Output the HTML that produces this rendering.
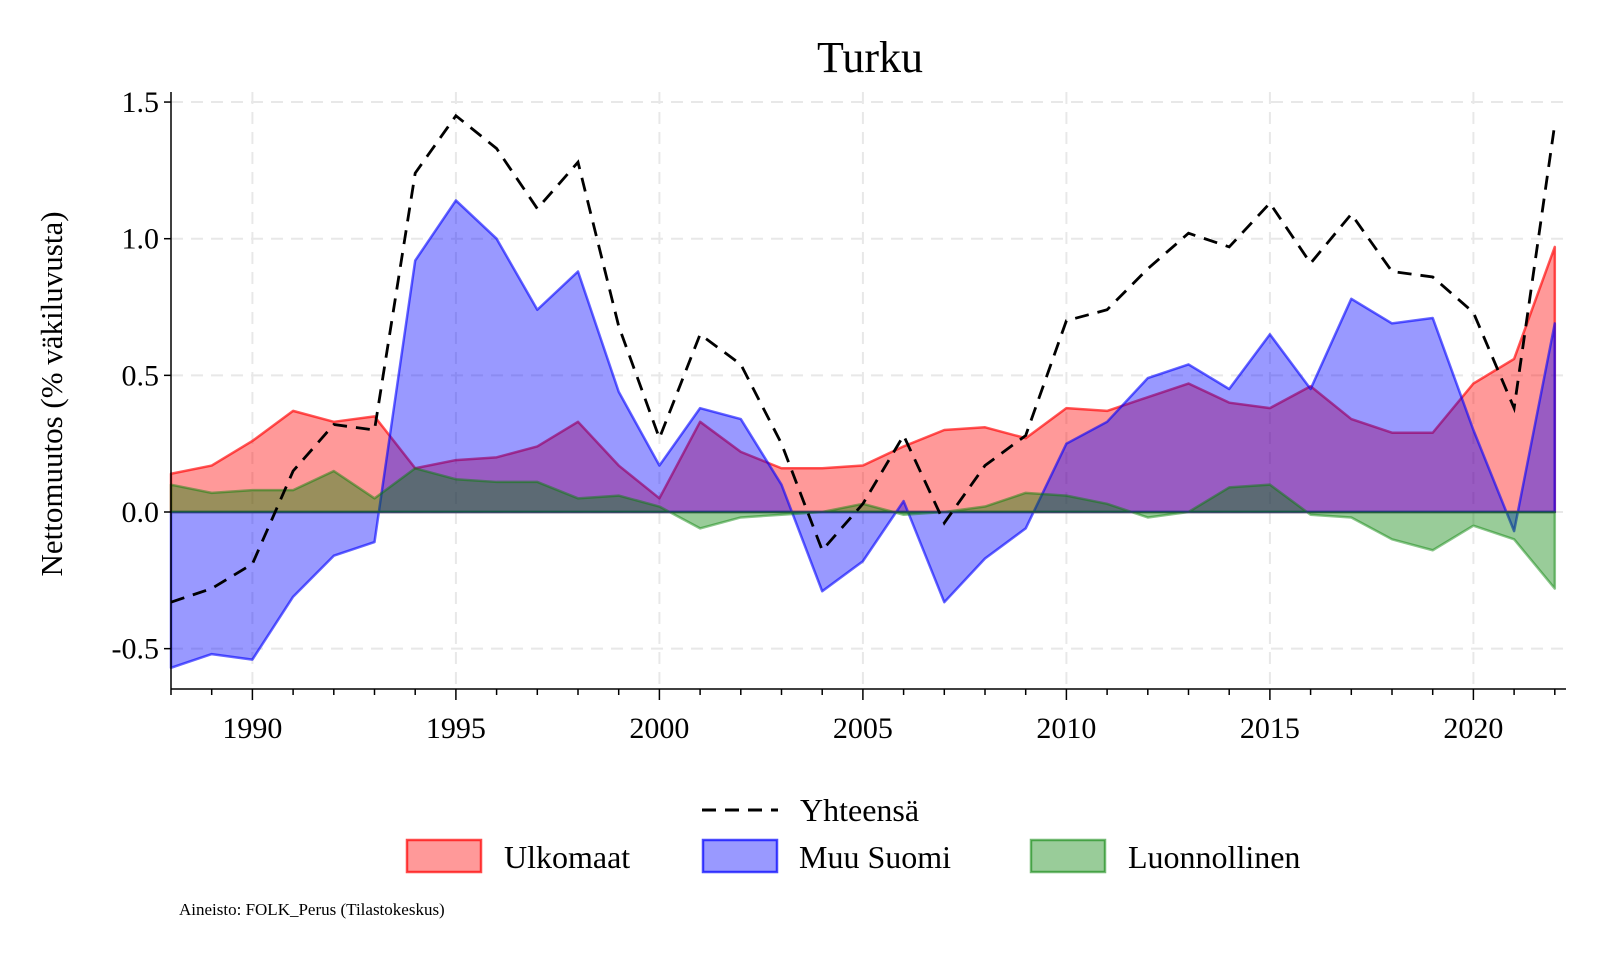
<!DOCTYPE html>
<html><head><meta charset="utf-8"><style>
body{margin:0;background:#fff}
svg text{font-family:"Liberation Serif",serif;fill:#000}
</style></head><body>
<svg id="chart" width="1600" height="960" viewBox="0 0 1600 960" xmlns="http://www.w3.org/2000/svg">
<text x="870" y="72" font-size="44" text-anchor="middle">Turku</text>
<g id="grid"></g>
<g id="areas"></g>
<g id="axes"></g>
<text transform="translate(62,394) rotate(-90)" font-size="31" text-anchor="middle">Nettomuutos (% väkiluvusta)</text>
<g>
<line x1="702" y1="810" x2="778" y2="810" stroke="#000" stroke-width="3" stroke-dasharray="14,9"/>
<text x="800" y="821" font-size="32">Yhteensä</text>
<rect x="407" y="840" width="74" height="32" fill="rgba(255,0,0,0.4)" stroke="rgba(255,0,0,0.7)" stroke-width="2.5"/>
<text x="504" y="868" font-size="32">Ulkomaat</text>
<rect x="703" y="840" width="74" height="32" fill="rgba(0,0,255,0.4)" stroke="rgba(0,0,255,0.7)" stroke-width="2.5"/>
<text x="799" y="868" font-size="32">Muu Suomi</text>
<rect x="1031" y="840" width="74" height="32" fill="rgba(0,128,0,0.4)" stroke="rgba(0,128,0,0.55)" stroke-width="2.5"/>
<text x="1128" y="868" font-size="32">Luonnollinen</text>
</g>
<text x="179" y="915" font-size="17" fill="#444">Aineisto: FOLK_Perus (Tilastokeskus)</text>
</svg>
<script>
const years=[1988,1989,1990,1991,1992,1993,1994,1995,1996,1997,1998,1999,2000,2001,2002,2003,2004,2005,2006,2007,2008,2009,2010,2011,2012,2013,2014,2015,2016,2017,2018,2019,2020,2021,2022];
const ulkomaat=[0.14,0.17,0.26,0.37,0.33,0.35,0.16,0.19,0.20,0.24,0.33,0.17,0.05,0.33,0.22,0.16,0.16,0.17,0.24,0.30,0.31,0.27,0.38,0.37,0.42,0.47,0.40,0.38,0.46,0.34,0.29,0.29,0.47,0.56,0.97];
const muuSuomi=[-0.57,-0.52,-0.54,-0.31,-0.16,-0.11,0.92,1.14,1.00,0.74,0.88,0.44,0.17,0.38,0.34,0.10,-0.29,-0.18,0.04,-0.33,-0.17,-0.06,0.25,0.33,0.49,0.54,0.45,0.65,0.45,0.78,0.69,0.71,0.30,-0.07,0.69];
const luonnollinen=[0.10,0.07,0.08,0.08,0.15,0.05,0.16,0.12,0.11,0.11,0.05,0.06,0.02,-0.06,-0.02,-0.01,0.00,0.03,-0.01,0.00,0.02,0.07,0.06,0.03,-0.02,0.00,0.09,0.10,-0.01,-0.02,-0.10,-0.14,-0.05,-0.10,-0.28];
const yhteensa=[-0.33,-0.28,-0.19,0.15,0.32,0.30,1.24,1.45,1.33,1.11,1.28,0.68,0.27,0.65,0.54,0.25,-0.14,0.03,0.28,-0.04,0.17,0.28,0.70,0.74,0.89,1.02,0.97,1.13,0.91,1.09,0.88,0.86,0.73,0.38,1.42];
const yTicks=[-0.5,0,0.5,1,1.5];
const yTickLabels=["-0.5","0.0","0.5","1.0","1.5"];
const xTicks=[1990,1995,2000,2005,2010,2015,2020];

const NS="http://www.w3.org/2000/svg";
const X=y=>171+(y-1988)*40.7;
const Y=v=>512-v*273.3;
const axisL=171,axisR=1566,axisT=92,axisB=689;
function mk(tag,attrs,parent){const e=document.createElementNS(NS,tag);for(const k in attrs)e.setAttribute(k,attrs[k]);parent.appendChild(e);return e;}
const grid=document.getElementById('grid'),areas=document.getElementById('areas'),axes=document.getElementById('axes');
yTicks.forEach((t,i)=>{
  const g=mk('line',{x1:axisL,x2:axisR,y1:Y(t),y2:Y(t),stroke:'#e8e8e8','stroke-width':2,'stroke-dasharray':'12,8'},grid);
  
  
  const tk=mk('line',{x1:axisL-7,x2:axisL,y1:Y(t),y2:Y(t),stroke:'#000','stroke-width':1.5},axes);
  
  
  const tx=mk('text',{x:axisL-12,y:Y(t)+10,'font-size':30,'text-anchor':'end'},axes);
  tx.textContent=yTickLabels[i];
  
  
});
xTicks.forEach(t=>{
  const g=mk('line',{x1:X(t),x2:X(t),y1:axisT,y2:axisB,stroke:'#e8e8e8','stroke-width':2,'stroke-dasharray':'12,8'},grid);
  
  
  const tx=mk('text',{x:X(t),y:738,'font-size':30,'text-anchor':'middle'},axes);
  tx.textContent=t;
  
  
});
years.forEach(yr=>{
  const major=yr%5===0;
  const tk=mk('line',{x1:X(yr),x2:X(yr),y1:axisB,y2:axisB+(major?11:6),stroke:'#000','stroke-width':1.5},axes);
  
  
});
function area(vals,fill,stroke,name){
  let d='M'+X(years[0])+','+Y(0);
  vals.forEach((v,i)=>{d+=' L'+X(years[i])+','+Y(v);});
  d+=' L'+X(years[years.length-1])+','+Y(0)+' Z';
  const p=mk('path',{d:d,fill:fill,stroke:stroke,'stroke-width':2.5,'stroke-linejoin':'round'},areas);
  
  
}
area(ulkomaat,'rgba(255,0,0,0.4)','rgba(255,0,0,0.65)','area-ulkomaat');
area(muuSuomi,'rgba(0,0,255,0.4)','rgba(0,0,255,0.6)','area-muu-suomi');
area(luonnollinen,'rgba(0,128,0,0.4)','rgba(0,128,0,0.45)','area-luonnollinen');
const pts=yhteensa.map((v,i)=>X(years[i])+','+Y(v)).join(' ');
const ln=mk('polyline',{points:pts,fill:'none',stroke:'#000','stroke-width':2.8,'stroke-dasharray':'14,9'},areas);


const la=mk('line',{x1:axisL,x2:axisL,y1:axisT,y2:axisB,stroke:'#000','stroke-width':1.5},axes);


const lb=mk('line',{x1:axisL,x2:axisR,y1:axisB,y2:axisB,stroke:'#000','stroke-width':1.5},axes);


</script>
</body></html>
